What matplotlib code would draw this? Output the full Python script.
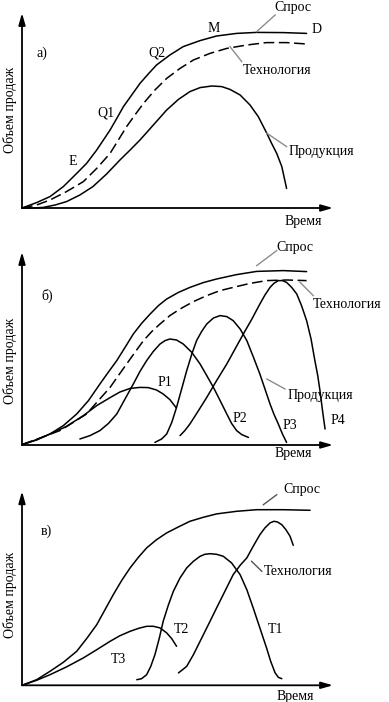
import matplotlib
matplotlib.use("Agg")
import matplotlib.pyplot as plt

plt.rcParams['font.family'] = ['Liberation Serif', 'DejaVu Serif']

# ---------------- Panel а) ----------------
a_demand_t = [0, 4.6, 8.8, 13, 17.2, 20.3, 23.5, 25.6, 27.7, 29.8, 31.9, 34.5, 37.1, 39.7,
              42.3, 46.5, 50.7, 56, 61.2, 67.5, 73.8, 82.2, 89.5]
a_demand_v = [0, 2.7, 5.7, 10.7, 17.3, 22.3, 29, 34, 39, 44.8, 50.7, 56.5, 62.3, 67,
              71.5, 76.5, 80.7, 83.7, 86, 87.3, 87.8, 87.7, 87.3]
a_tech_t = [0, 4.6, 8.8, 14, 19.3, 23.5, 27.7, 30.3, 32.9, 35.5, 38.2, 41.8, 45.5, 49.7,
            53.9, 59.1, 64.4, 70.7, 76.9, 83.2, 89.5]
a_tech_v = [0, 1.5, 4, 8.2, 13.2, 19.8, 27.3, 34, 40.7, 46.5, 52.3, 59, 64.8, 69.8,
            74, 77.3, 79.8, 81.5, 82.7, 82.7, 82]
a_prod_t = [0, 3.6, 6.7, 10.4, 14, 18.2, 22.3, 26.6, 30.8, 34, 37.1, 41.3, 45.5, 49.2,
            52.8, 56, 59.7, 62.8, 65.4, 68.6, 71.7, 74.3, 77, 78.5, 80.1, 81.7, 83.2]
a_prod_v = [0, 0, 0.3, 1.5, 3.2, 6.5, 10.7, 17, 24, 29, 34, 41.5, 49, 54.3,
            58.2, 60.2, 61, 60.7, 59.3, 56.5, 51.5, 45.7, 37.3, 32.3, 27.3, 20.7, 9.8]

# ---------------- Panel б) ----------------
b_demand_t = [0, 4.6, 8.8, 13, 17.2, 20.9, 24.5, 27.1, 29.8, 32.4, 35, 37.6, 40.3, 42.9,
              45.5, 49.2, 52.8, 57, 61.2, 67.5, 73.8, 82.2, 89.5]
b_demand_v = [0.2, 2.5, 5.5, 9.7, 15.5, 22.2, 30.5, 36.3, 42.2, 48.8, 55.5, 60.8, 65.5, 69.7,
              73, 76.3, 78.8, 81.2, 83, 85.2, 86.8, 87.2, 86.7]
b_tech_t = [0, 5.7, 11.9, 16.1, 20.3, 24, 27.7, 30.3, 32.9, 35.5, 38.2, 40.8, 43.4, 46.5,
            49.7, 53.9, 58.1, 62.3, 66.4, 71.7, 76.9, 83.2, 89.5]
b_tech_v = [0.2, 3.5, 7.2, 11.3, 15.5, 22.2, 28.8, 34.7, 40.5, 46.3, 52.2, 56.7, 60.5, 64.7,
            68, 71.7, 74.7, 77.2, 78.8, 80.8, 82.2, 82.5, 82.2]
b_p1_t = [0, 4.6, 8.8, 14, 19.3, 23.5, 27.7, 30.8, 34, 37.1, 39.7, 42.3, 44.4, 46.5, 48.4]
b_p1_v = [0.2, 2.7, 5.5, 9.3, 14.7, 19.7, 23.7, 26.5, 28.3, 28.8, 28.7, 27.5, 25.5, 22.7, 18.8]
b_p2_t = [18.2, 21.4, 24.5, 27.2, 29.8, 32.4, 35, 37.1, 39.2, 41.3, 43.4, 45, 46.5, 48.6,
          50.7, 53.4, 56, 58.1, 60.2, 62.3, 64.4, 65.9, 67.5, 69.1, 71.2]
b_p2_v = [3, 4.7, 7.2, 10.8, 15.5, 23, 30.5, 36.8, 42.2, 46.8, 50.5, 52.2, 53, 52.5,
          50.5, 46.3, 40.5, 34.7, 28.8, 22.2, 15.5, 10.8, 7.2, 5.2, 3.8]
b_p3_t = [41.8, 43.9, 45.5, 47.1, 48.6, 50.2, 51.8, 53.4, 54.9, 56.5, 58.1, 60.2, 62.3,
          64.4, 66.4, 68.6, 70.7, 72.8, 74.8, 76.4, 78, 79.2, 80.6, 81.9, 83.2]
b_p3_v = [1.3, 3, 5.5, 11.3, 18.8, 28, 37.2, 45.5, 52.2, 56.8, 60.5, 63.5, 64.7,
          64.2, 62.2, 58, 52.2, 43.8, 35.5, 28, 20.5, 15.5, 10.5, 5.5, 1.3]
b_p4_t = [49.7, 51.2, 52.8, 55.5, 58.1, 61.2, 64.4, 67, 69.6, 72.3, 74.8, 76.4, 78, 79.2,
          80.6, 81.9, 83.2, 84.8, 86.4, 87.9, 89.5, 90.9, 92.1, 93, 93.7, 94.5, 95.3]
b_p4_v = [4.7, 7.2, 10.5, 17.2, 23.8, 32.2, 40.5, 48, 55.5, 63, 70.5, 75, 78.8, 80.8,
          82.2, 82.2, 81.3, 78.8, 75.5, 69.7, 62.2, 53, 42.2, 34.7, 27.2, 17.2, 8]

# ---------------- Panel в) ----------------
c_demand_t = [0, 4.6, 8.8, 13, 17.2, 20.3, 23.5, 26.1, 28.7, 31.3, 34, 36.6, 39.2, 42.3,
              45.5, 49.2, 52.8, 57, 61.2, 67.5, 73.8, 82.2, 90.6]
c_demand_v = [0, 2.8, 7, 11.5, 17, 23.3, 30.3, 37.8, 45.3, 52.3, 58.7, 64, 68.7, 72.8,
              76.2, 79.2, 82, 84, 85.7, 87, 87.8, 87.8, 87.5]
c_t3_t = [0, 4.6, 8.8, 14, 19.3, 23.5, 27.7, 30.8, 34, 36.7, 39.2, 41.3, 43.4, 45.5, 47.1, 48.6]
c_t3_v = [0, 2.5, 5.3, 9.2, 13.7, 17.8, 22, 24.8, 27, 28.5, 29.5, 29.5, 28.7, 26.2, 23.3, 19.5]
c_t2_t = [36.1, 37.6, 39.2, 40.5, 41.8, 43.2, 44.4, 46, 47.6, 49.7, 51.8, 53.9, 56, 57.5,
          59.1, 61.2, 63.3, 65.9, 68.6, 70.7, 72.7, 74.8, 76.9, 78.2, 79.6, 80.6, 81.7]
c_t2_v = [2.8, 3.3, 5.3, 9.5, 15.3, 23.7, 32, 40, 47, 53.7, 58.7, 62, 64.5, 65.5,
          65.8, 65.5, 64.5, 61.2, 55.3, 47.8, 38.7, 28.7, 18.7, 12, 6.2, 4, 3.3]
c_t1_t = [49.2, 50.5, 51.8, 53.9, 56, 58.6, 61.2, 63.8, 66.4, 68.6, 70.7, 72.7, 74.8,
          76.4, 78, 79.2, 80.3, 81.7, 83, 84.3, 85.3]
c_t1_v = [6.2, 7.8, 9.5, 15.3, 22, 30.3, 38.7, 47, 55.3, 60, 63.7, 69.5, 75.3,
          78.7, 81.2, 82, 81.7, 80.3, 77.8, 74.5, 70]

ylabel = "Объем продаж"
xlabel = "Время"

W, H = 389, 702
fig = plt.figure(figsize=(W / 100, H / 100), dpi=100)
fig.patch.set_facecolor('white')

FS = 10
LW = 1.1
LEAD = '#8c8c8c'


def make_axes(y0, xtip, ytip):
    ax = fig.add_axes([22 / W, (H - y0) / H, 318 / W, 200 / H])
    ax.set_xlim(0, 100)
    ax.set_ylim(0, 100)
    ax.axis('off')
    ax.annotate('', xy=(0, ytip), xytext=(0, 0),
                arrowprops=dict(arrowstyle='-|>,head_length=0.7,head_width=0.2',
                                color='black', lw=1.3, shrinkA=0, shrinkB=0))
    ax.annotate('', xy=(xtip, 0), xytext=(0, 0),
                arrowprops=dict(arrowstyle='-|>,head_length=0.7,head_width=0.2',
                                color='black', lw=1.3, shrinkA=0, shrinkB=0))
    return ax


def txt(ax, t, v, s, **kw):
    ax.text(t, v, s, fontsize=FS, ha='center', va='center', clip_on=False, **kw)


def leader(ax, t0, v0, t1, v1, color=LEAD):
    ax.plot([t0, t1], [v0, v1], color=color, lw=1.0, clip_on=False)


line_kw = dict(color='black', lw=LW, clip_on=False, solid_joinstyle='round',
               solid_capstyle='round')
dash_kw = dict(color='black', lw=LW, clip_on=False, dashes=(7, 3))

# Panel а
ax = make_axes(208, 97.8, 97.5)
ax.plot(a_demand_t, a_demand_v, **line_kw)
ax.plot(a_tech_t, a_tech_v, **dash_kw)
ax.plot(a_prod_t, a_prod_v, **line_kw)
txt(ax, 6.2, 77.4, "а)")
txt(ax, 16.1, 23.2, "E")
txt(ax, 26.4, 47.4, "Q1")
txt(ax, 42.4, 77.4, "Q2")
txt(ax, 60.2, 89.9, "M")
txt(ax, 92.7, 89.4, "D")
txt(ax, 85.3, 100.4, "Спрос")
leader(ax, 73.8, 88.2, 79.6, 96.5)
txt(ax, 80.1, 69, "Технология")
leader(ax, 65.4, 80.7, 69.1, 73.2)
txt(ax, 94.2, 28.2, "Продукция")
leader(ax, 77, 37.4, 83.2, 30.7)
txt(ax, 88.5, -6.9, xlabel)
txt(ax, -3.8, 49, ylabel, rotation=90)

# Panel б
ax = make_axes(445, 97.8, 96.5)
ax.plot(b_demand_t, b_demand_v, **line_kw)
ax.plot(b_tech_t, b_tech_v, **dash_kw)
for tt, vv in [(b_p1_t, b_p1_v), (b_p2_t, b_p2_v), (b_p3_t, b_p3_v), (b_p4_t, b_p4_v)]:
    ax.plot(tt, vv, **line_kw)
txt(ax, 7.8, 74.7, "б)")
txt(ax, 45, 31.4, "P1")
txt(ax, 68.6, 13, "P2")
txt(ax, 84.3, 9.7, "P3")
txt(ax, 99.4, 12.2, "P4")
txt(ax, 85.8, 98.9, "Спрос")
leader(ax, 73.8, 89.7, 80.1, 97.2)
txt(ax, 102.1, 70.5, "Технология")
leader(ax, 87.4, 81.4, 91.6, 74.7)
txt(ax, 93.7, 24.7, "Продукция")
leader(ax, 77, 33, 82.7, 28)
txt(ax, 85.3, -4.5, xlabel)
txt(ax, -3.8, 42, ylabel, rotation=90)

# Panel в
ax = make_axes(685.3, 97.8, 97)
ax.plot(c_demand_t, c_demand_v, **line_kw)
for tt, vv in [(c_t3_t, c_t3_v), (c_t2_t, c_t2_v), (c_t1_t, c_t1_v)]:
    ax.plot(tt, vv, **line_kw)
txt(ax, 7.8, 77, "в)")
txt(ax, 88, 97.8, "Спрос")
leader(ax, 75.9, 90.3, 80.1, 95.3, color='#555555')
txt(ax, 86.9, 57, "Технология")
leader(ax, 72.2, 62, 75.4, 57, color='#555555')
txt(ax, 30.3, 12.8, "T3")
txt(ax, 50.2, 27.8, "T2")
txt(ax, 79.6, 27.8, "T1")
txt(ax, 85.8, -5.4, xlabel)
txt(ax, -3.8, 45.3, ylabel, rotation=90)

fig.savefig("out.png", dpi=100, facecolor='white')
